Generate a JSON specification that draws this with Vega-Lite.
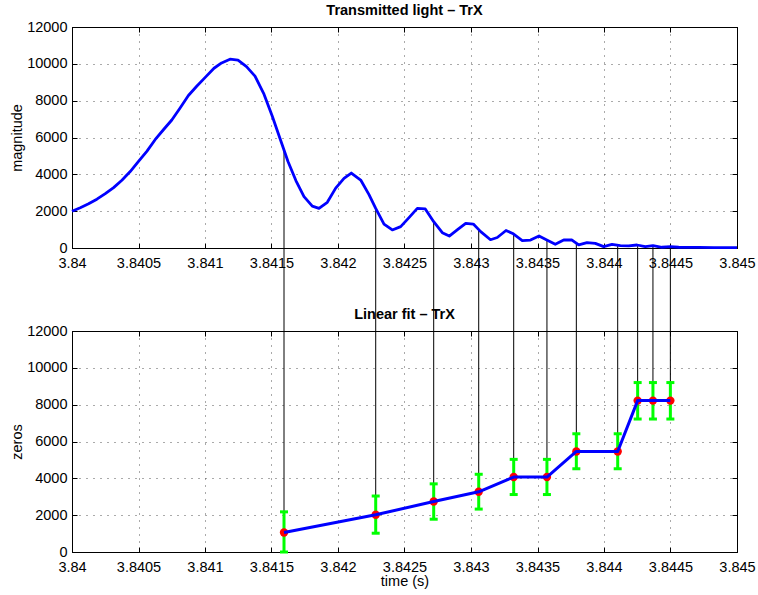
{
  "$schema": "https://vega.github.io/schema/vega-lite/v6.json",
  "padding": {"left": 9, "top": 2, "right": 2, "bottom": 2},
  "background": "white",
  "spacing": 83,
  "bounds": "flush",
  "config": {
    "font": "Liberation Sans",
    "view": {"stroke": "black", "strokeWidth": 1},
    "axis": {
      "labelFont": "Liberation Sans", "labelFontSize": 14.5, "labelColor": "#000",
      "titleFont": "Liberation Sans", "titleFontSize": 14.5, "titleFontWeight": "normal", "titleColor": "#000",
      "domainColor": "#000", "domainWidth": 1, "tickColor": "#000", "tickSize": -5, "tickWidth": 1,
      "gridColor": "#555", "gridDash": [1, 6], "gridWidth": 1, "gridOpacity": 1,
      "labelFlush": false, "labelOverlap": false, "labelBound": false
    },
    "axisX": {"labelPadding": 13, "titlePadding": 1},
    "axisY": {"labelPadding": 10, "titlePadding": 2},
    "title": {"font": "Liberation Sans", "fontSize": 14.5, "fontWeight": "bold", "color": "#000", "offset": 0, "dy": 3}
  },
  "datasets": {
    "curve": [
      {"t": 3.84, "v": 2000}, {"t": 3.8400624, "v": 2190}, {"t": 3.8401248, "v": 2400}, {"t": 3.8401872, "v": 2650},
      {"t": 3.8402504, "v": 2950}, {"t": 3.8403128, "v": 3280}, {"t": 3.8403752, "v": 3680}, {"t": 3.8404376, "v": 4150},
      {"t": 3.8405, "v": 4700}, {"t": 3.8405624, "v": 5250}, {"t": 3.8406248, "v": 5880}, {"t": 3.8406872, "v": 6420},
      {"t": 3.8407504, "v": 6950}, {"t": 3.8408128, "v": 7600}, {"t": 3.8408752, "v": 8280}, {"t": 3.8409376, "v": 8780},
      {"t": 3.841, "v": 9250}, {"t": 3.8410677, "v": 9760}, {"t": 3.8411248, "v": 10050}, {"t": 3.841188, "v": 10250},
      {"t": 3.8412481, "v": 10200}, {"t": 3.841312, "v": 9850}, {"t": 3.841376, "v": 9330}, {"t": 3.8414436, "v": 8350},
      {"t": 3.841506, "v": 7150}, {"t": 3.8415639, "v": 5950}, {"t": 3.841624, "v": 4700}, {"t": 3.8416842, "v": 3650},
      {"t": 3.8417444, "v": 2790}, {"t": 3.8418068, "v": 2270}, {"t": 3.8418571, "v": 2150}, {"t": 3.8419195, "v": 2480},
      {"t": 3.8419827, "v": 3250}, {"t": 3.8420451, "v": 3780}, {"t": 3.8421, "v": 4070}, {"t": 3.8421707, "v": 3690},
      {"t": 3.8422331, "v": 2900}, {"t": 3.8422835, "v": 2150}, {"t": 3.8423459, "v": 1300}, {"t": 3.8424083, "v": 980},
      {"t": 3.8424714, "v": 1160}, {"t": 3.8425338, "v": 1650}, {"t": 3.8425962, "v": 2150}, {"t": 3.8426564, "v": 2120},
      {"t": 3.8427195, "v": 1430}, {"t": 3.8427842, "v": 830}, {"t": 3.8428368, "v": 650}, {"t": 3.8428985, "v": 1000},
      {"t": 3.8429602, "v": 1340}, {"t": 3.8430173, "v": 1300}, {"t": 3.843073, "v": 890}, {"t": 3.8431466, "v": 450},
      {"t": 3.8431977, "v": 570}, {"t": 3.8432632, "v": 950}, {"t": 3.8433135, "v": 790}, {"t": 3.8433857, "v": 400},
      {"t": 3.8434474, "v": 430}, {"t": 3.8435113, "v": 650}, {"t": 3.8435737, "v": 420}, {"t": 3.8436338, "v": 200},
      {"t": 3.843697, "v": 434}, {"t": 3.8437594, "v": 434}, {"t": 3.8438098, "v": 165}, {"t": 3.8438722, "v": 290},
      {"t": 3.8439346, "v": 253}, {"t": 3.8439977, "v": 75}, {"t": 3.8440602, "v": 200}, {"t": 3.8441226, "v": 127},
      {"t": 3.8441857, "v": 110}, {"t": 3.8442481, "v": 163}, {"t": 3.8443105, "v": 72}, {"t": 3.8443684, "v": 127},
      {"t": 3.8444361, "v": 40}, {"t": 3.8444985, "v": 72}, {"t": 3.8445617, "v": 40}, {"t": 3.8446241, "v": 36},
      {"t": 3.8447143, "v": 30}, {"t": 3.8448271, "v": 25}, {"t": 3.845, "v": 20}
    ],
    "zeros": [
      {"t": 3.841594, "top": 5300, "z": 1060, "lo": 0, "hi": 2180},
      {"t": 3.8422835, "top": 2200, "z": 2020, "lo": 1020, "hi": 3040},
      {"t": 3.8427195, "top": 1450, "z": 2740, "lo": 1780, "hi": 3700},
      {"t": 3.843058, "top": 1000, "z": 3270, "lo": 2330, "hi": 4220},
      {"t": 3.843321, "top": 760, "z": 4070, "lo": 3120, "hi": 5030},
      {"t": 3.843571, "top": 420, "z": 4070, "lo": 3120, "hi": 5030},
      {"t": 3.843792, "top": 230, "z": 5460, "lo": 4520, "hi": 6420},
      {"t": 3.844103, "top": 150, "z": 5460, "lo": 4520, "hi": 6420},
      {"t": 3.844253, "top": 160, "z": 8220, "lo": 7220, "hi": 9200},
      {"t": 3.844368, "top": 127, "z": 8220, "lo": 7220, "hi": 9200},
      {"t": 3.844499, "top": 72, "z": 8220, "lo": 7220, "hi": 9200}
    ]
  },
  "vconcat": [
    {
      "width": 665, "height": 221,
      "title": {"text": "Transmitted light – TrX"},
      "resolve": {"axis": {"x": "independent", "y": "independent"}},
      "layer": [
        {
          "data": {"name": "zeros"},
          "mark": {"type": "rule", "color": "#000", "strokeWidth": 1},
          "encoding": {
            "x": {"field": "t", "type": "quantitative", "scale": {"domain": [3.84, 3.845], "nice": false, "zero": false},
                  "axis": {"orient": "bottom", "title": null, "values": [3.84, 3.8405, 3.841, 3.8415, 3.842, 3.8425, 3.843, 3.8435, 3.844, 3.8445, 3.845], "format": ".4~f"}},
            "y": {"field": "top", "type": "quantitative", "scale": {"domain": [0, 12000], "nice": false},
                  "axis": {"orient": "left", "title": "magnitude", "values": [0, 2000, 4000, 6000, 8000, 10000, 12000], "format": "d"}},
            "y2": {"datum": -4520}
          }
        },
        {
          "data": {"name": "curve"},
          "mark": {"type": "line", "color": "#0000FF", "strokeWidth": 2.8, "strokeJoin": "round"},
          "encoding": {
            "x": {"field": "t", "type": "quantitative", "axis": null},
            "y": {"field": "v", "type": "quantitative", "axis": null}
          }
        },
        {
          "data": {"name": "curve"},
          "mark": {"type": "point", "opacity": 0},
          "encoding": {
            "x": {"field": "t", "type": "quantitative",
                  "axis": {"orient": "top", "labels": false, "grid": false, "title": null, "values": [3.84, 3.8405, 3.841, 3.8415, 3.842, 3.8425, 3.843, 3.8435, 3.844, 3.8445, 3.845]}},
            "y": {"field": "v", "type": "quantitative",
                  "axis": {"orient": "right", "labels": false, "grid": false, "title": null, "values": [0, 2000, 4000, 6000, 8000, 10000, 12000]}}
          }
        }
      ]
    },
    {
      "width": 665, "height": 221,
      "title": {"text": "Linear fit – TrX"},
      "resolve": {"axis": {"x": "independent", "y": "independent"}},
      "data": {"name": "zeros"},
      "layer": [
        {
          "mark": {"type": "rule", "color": "#000", "strokeWidth": 1},
          "encoding": {
            "x": {"field": "t", "type": "quantitative", "scale": {"domain": [3.84, 3.845], "nice": false, "zero": false},
                  "axis": {"orient": "bottom", "title": "time (s)", "values": [3.84, 3.8405, 3.841, 3.8415, 3.842, 3.8425, 3.843, 3.8435, 3.844, 3.8445, 3.845], "format": ".4~f"}},
            "y": {"field": "z", "type": "quantitative", "scale": {"domain": [0, 12000], "nice": false},
                  "axis": {"orient": "left", "title": "zeros", "values": [0, 2000, 4000, 6000, 8000, 10000, 12000], "format": "d"}},
            "y2": {"datum": 12000}
          }
        },
        {
          "mark": {"type": "rule", "color": "#00FF00", "strokeWidth": 3},
          "encoding": {
            "x": {"field": "t", "type": "quantitative", "axis": null},
            "y": {"field": "lo", "type": "quantitative", "axis": null},
            "y2": {"field": "hi"}
          }
        },
        {
          "mark": {"type": "tick", "orient": "horizontal", "color": "#00FF00", "size": 8, "thickness": 3, "opacity": 1},
          "encoding": {
            "x": {"field": "t", "type": "quantitative", "axis": null},
            "y": {"field": "lo", "type": "quantitative", "axis": null}
          }
        },
        {
          "mark": {"type": "tick", "orient": "horizontal", "color": "#00FF00", "size": 8, "thickness": 3, "opacity": 1},
          "encoding": {
            "x": {"field": "t", "type": "quantitative", "axis": null},
            "y": {"field": "hi", "type": "quantitative", "axis": null}
          }
        },
        {
          "mark": {"type": "circle", "color": "#FF0000", "opacity": 1, "size": 70},
          "encoding": {
            "x": {"field": "t", "type": "quantitative", "axis": null},
            "y": {"field": "z", "type": "quantitative", "axis": null}
          }
        },
        {
          "mark": {"type": "line", "color": "#0000FF", "strokeWidth": 3, "strokeJoin": "round"},
          "encoding": {
            "x": {"field": "t", "type": "quantitative", "axis": null},
            "y": {"field": "z", "type": "quantitative", "axis": null}
          }
        },
        {
          "mark": {"type": "point", "opacity": 0},
          "encoding": {
            "x": {"field": "t", "type": "quantitative",
                  "axis": {"orient": "top", "labels": false, "grid": false, "title": null, "values": [3.84, 3.8405, 3.841, 3.8415, 3.842, 3.8425, 3.843, 3.8435, 3.844, 3.8445, 3.845]}},
            "y": {"field": "z", "type": "quantitative",
                  "axis": {"orient": "right", "labels": false, "grid": false, "title": null, "values": [0, 2000, 4000, 6000, 8000, 10000, 12000]}}
          }
        }
      ]
    }
  ]
}
